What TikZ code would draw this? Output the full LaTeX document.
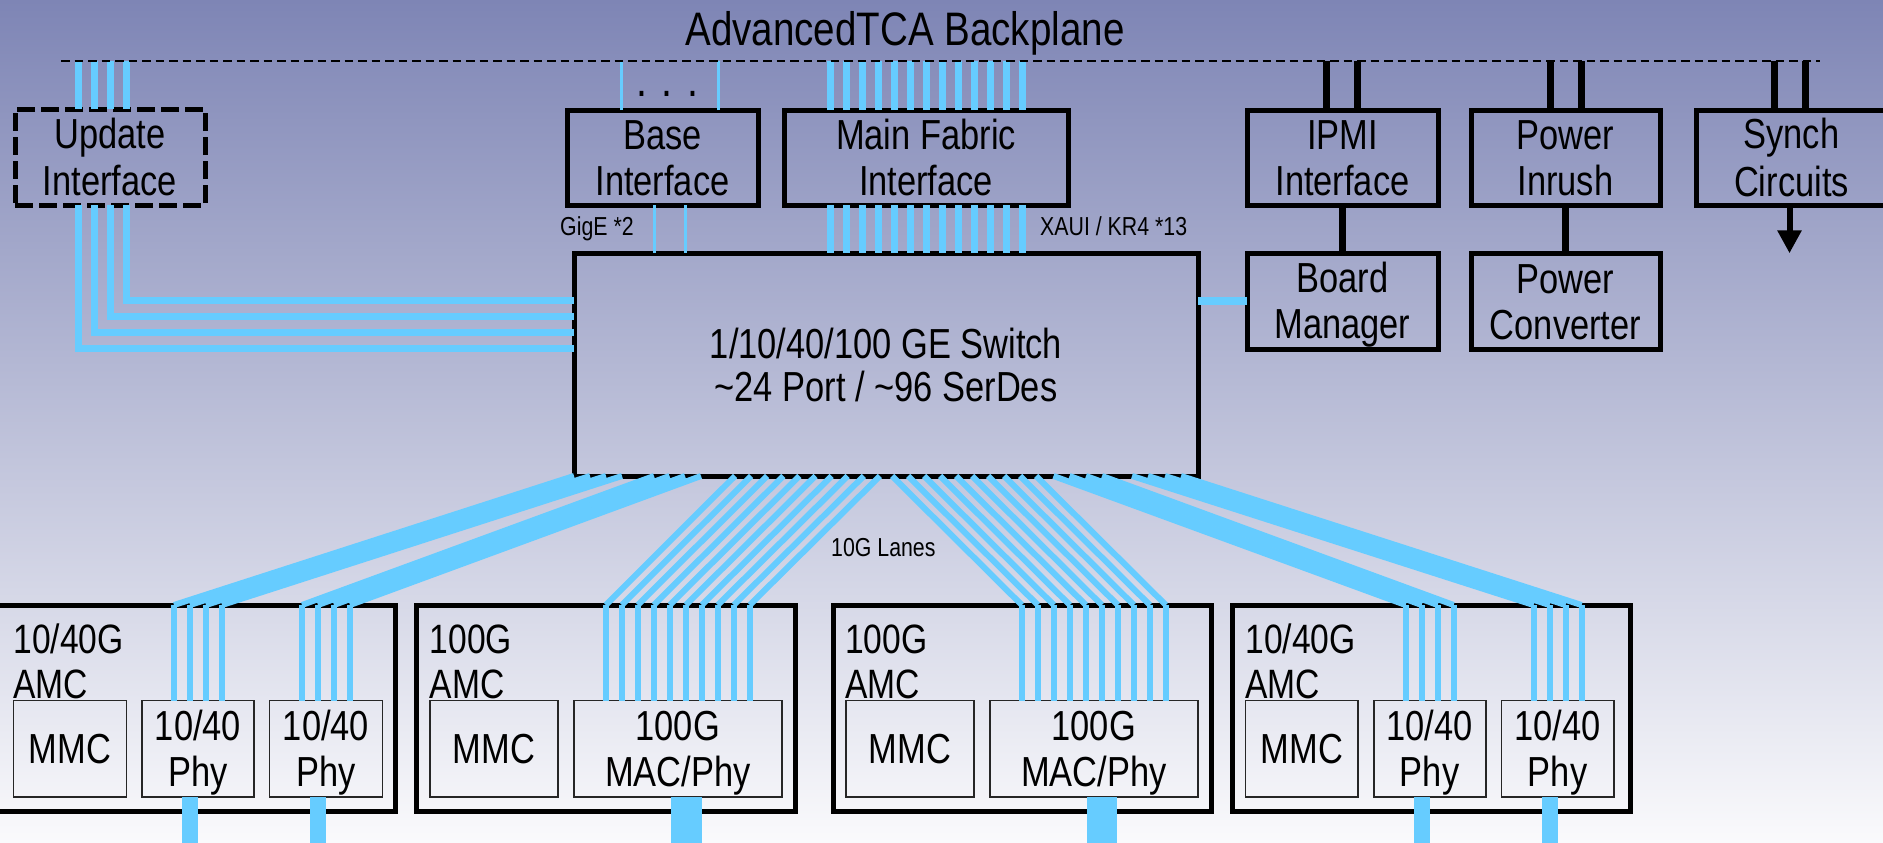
\documentclass[tikz,border=0pt]{standalone}
\usepackage{fontspec}
\setmainfont{Liberation Sans}[FakeStretch=0.82]
\usetikzlibrary{arrows.meta,calc}
\definecolor{lanec}{RGB}{102,204,255}
\definecolor{bgtop}{RGB}{126,133,181}
\definecolor{bgmid}{RGB}{196,198,221}
\definecolor{bgbot}{RGB}{250,250,252}
% line strut that centres the capitals of each line on the node centre
\makeatletter
\newcommand\cstrut{\rule[\dimexpr0.358\dimexpr\f@size pt\relax-0.5\baselineskip\relax]{0pt}{\baselineskip}}
\makeatother
\begin{document}
\begin{tikzpicture}[x=1pt,y=-1pt,
  box/.style 2 args={draw=black,line width=5pt,inner sep=0pt,outer sep=0pt,
    minimum width=#1pt,minimum height=#2pt,align=center,font=\fontsize{42}{46}\selectfont},
  inbox/.style 2 args={draw=black!85,line width=1.8pt,inner sep=0pt,outer sep=0pt,
    minimum width=#1pt,minimum height=#2pt,align=center,font=\fontsize{42}{46}\selectfont},
  amclbl/.style={anchor=west,inner sep=0pt,outer sep=0pt,align=left,font=\fontsize{41}{45}\selectfont},
  small/.style={anchor=base west,inner sep=0pt,font=\fontsize{26}{28}\selectfont},
  lane/.style={draw=lanec,line width=6pt},
  widelane/.style={draw=lanec,line width=7pt},
  thinlane/.style={draw=lanec,line width=3pt},
  stub/.style={draw=lanec,line width=#1pt},
  blk/.style={draw=black,line width=7pt}]

\useasboundingbox (0,0) rectangle (1883,843);
\clip (0,0) rectangle (1883,843);
\shade[top color=bgtop,middle color=bgmid,bottom color=bgbot] (0,0) rectangle (1883,843);

% title and backplane
\node[font=\fontsize{47}{50}\selectfont,anchor=base,inner sep=0pt] (title) at (905,46) {AdvancedTCA Backplane};
\coordinate (bpL) at (61,61);
\coordinate (bpR) at (1820,61);
\coordinate (bot) at (0,846);

% upper row
\node[box={190}{96},dash pattern=on 18pt off 6pt] (upd) at (110,157) {\cstrut Update\\\cstrut Interface};
\node[box={191}{95}] (base) at (662.5,157.5) {\cstrut Base\\\cstrut Interface};
\node[box={284}{95}] (fab) at (926,157.5) {\cstrut Main Fabric\\\cstrut Interface};
\node[box={191}{95}] (ipmi) at (1342.5,157.5) {\cstrut IPMI\\\cstrut Interface};
\node[box={189}{95}] (inr) at (1565.5,157.5) {\cstrut Power\\\cstrut Inrush};
\node[box={191}{95}] (syn) at (1791.5,157.5) {\cstrut Synch\\\cstrut Circuits};
\node[box={191}{95.5}] (bm) at (1342.5,301.25) {\cstrut Board\\\cstrut Manager};
\node[box={189}{95.5}] (pc) at (1565.5,301.25) {\cstrut Power\\\cstrut Converter};

% switch
\node[box={624}{223},font=\fontsize{42}{43}\selectfont] (sw) at (886,364.5)
  {\cstrut 1/10/40/100 GE Switch\\\cstrut \textasciitilde24 Port / \textasciitilde96 SerDes};

% AMC cards
\node[box={398}{206.5}] (a1) at (196,708.25) {};
\node[box={379}{206.5}] (a2) at (606,708.25) {};
\node[box={378}{206.5}] (a3) at (1022,708.25) {};
\node[box={397.5}{206.5}] (a4) at (1431.25,708.25) {};
\node[amclbl] (l1) at (13.5,661.2) {\cstrut 10/40G\\\cstrut AMC};
\node[amclbl] (l2) at (429.7,661.2) {\cstrut 100G\\\cstrut AMC};
\node[amclbl] (l3) at (845,661.2) {\cstrut 100G\\\cstrut AMC};
\node[amclbl] (l4) at (1245.5,661.2) {\cstrut 10/40G\\\cstrut AMC};

\node[inbox={113}{96.5}] (mmc1) at (70,748.75) {\cstrut MMC};
\node[inbox={112}{96.5}] (p11) at (198,748.75) {\cstrut 10/40\\\cstrut Phy};
\node[inbox={113}{96.5}] (p12) at (326,748.75) {\cstrut 10/40\\\cstrut Phy};
\node[inbox={128}{96.5}] (mmc2) at (494,748.75) {\cstrut MMC};
\node[inbox={207.6}{96.5}] (mac2) at (677.8,748.75) {\cstrut 100G\\\cstrut MAC/Phy};
\node[inbox={128}{96.5}] (mmc3) at (910,748.75) {\cstrut MMC};
\node[inbox={208.4}{96.5}] (mac3) at (1093.8,748.75) {\cstrut 100G\\\cstrut MAC/Phy};
\node[inbox={112.5}{96.5}] (mmc4) at (1301.75,748.75) {\cstrut MMC};
\node[inbox={112}{96.5}] (p41) at (1429.65,748.75) {\cstrut 10/40\\\cstrut Phy};
\node[inbox={112.4}{96.5}] (p42) at (1557.6,748.75) {\cstrut 10/40\\\cstrut Phy};

% small labels
\node[small] (gige) at (560,235) {GigE *2};
\node[small] (xaui) at (1040,235) {XAUI / KR4 *13};
\node[small] (tenG) at (831,556.7) {10G Lanes};
\node[font=\fontsize{48}{50}\selectfont,anchor=base,inner sep=0pt] (dots) at (667,96.5) {. . .};

% update interface lanes
\foreach \o in {-32,-16,0,16}
  \draw[widelane] ([xshift=\o pt]upd.north) -- ([xshift=\o pt]upd.north |- bpL);
\foreach \o/\h in {-32/16,-16/32,0/48,16/64}
  \draw[widelane,line join=miter] ([xshift=\o pt]upd.south) |- ([yshift=\h pt]sw.west);

% base interface lanes
\foreach \o in {-41.5,55.5}
  \draw[thinlane] ([xshift=\o pt]base.north) -- ([xshift=\o pt]base.north |- bpL);
\foreach \o in {-8.5,22.5}
  \draw[thinlane] ([xshift=\o pt]base.south) -- ([xshift=\o pt]base.south |- sw.north);

% main fabric lanes
\foreach \k [evaluate=\k as \o using \k*16-96] in {0,...,12} {
  \draw[widelane] ([xshift=\o pt]fab.north) -- ([xshift=\o pt]fab.north |- bpL);
  \draw[widelane] ([xshift=\o pt]fab.south) -- ([xshift=\o pt]fab.south |- sw.north);
}

% management and power links
\foreach \o in {-16,15}
  \draw[blk] ([xshift=\o pt]ipmi.north) -- ([xshift=\o pt]ipmi.north |- bpL);
\draw[blk] (ipmi.south) -- (bm.north);
\foreach \o in {-15.5,15.5}
  \draw[blk] ([xshift=\o pt]inr.north) -- ([xshift=\o pt]inr.north |- bpL);
\draw[blk] (inr.south) -- (pc.north);
\foreach \o in {-17,14}
  \draw[blk] ([xshift=\o pt]syn.north) -- ([xshift=\o pt]syn.north |- bpL);
\coordinate (synout) at (1789.5,253.3);
\draw[draw=black,line width=6pt,-{Triangle[width=23pt,length=23pt]}] (syn.south -| synout) -- (synout);
\draw[lane,line width=8pt] (bm.west -| sw.east) -- (bm.west);

% switch to AMC lanes
\foreach \s/\a in {0/-24,16/-8,32/8,48/24} {
  \draw[lane] ([xshift=\s pt]sw.south west) -- ([xshift=\a pt]p11.north |- a1.north);
  \draw[lane] ([xshift=\a pt]p11.north |- a1.north) -- ([xshift=\a pt]p11.north);
}
\foreach \s/\a in {80/-24,95.5/-8,111/8,127/24} {
  \draw[lane] ([xshift=\s pt]sw.south west) -- ([xshift=\a pt]p12.north |- a1.north);
  \draw[lane] ([xshift=\a pt]p12.north |- a1.north) -- ([xshift=\a pt]p12.north);
}
\foreach \k [evaluate=\k as \s using 161+\k*16.1, evaluate=\k as \a using \k*16-72] in {0,...,9} {
  \draw[lane] ([xshift=\s pt]sw.south west) -- ([xshift=\a pt]mac2.north |- a2.north);
  \draw[lane] ([xshift=\a pt]mac2.north |- a2.north) -- ([xshift=\a pt]mac2.north);
}
\foreach \k [evaluate=\k as \s using 318+\k*16, evaluate=\k as \a using \k*16-72] in {0,...,9} {
  \draw[lane] ([xshift=\s pt]sw.south west) -- ([xshift=\a pt]mac3.north |- a3.north);
  \draw[lane] ([xshift=\a pt]mac3.north |- a3.north) -- ([xshift=\a pt]mac3.north);
}
\foreach \s/\a in {479.5/-24,495.5/-8,512/8,528/24} {
  \draw[lane] ([xshift=\s pt]sw.south west) -- ([xshift=\a pt]p41.north |- a4.north);
  \draw[lane] ([xshift=\a pt]p41.north |- a4.north) -- ([xshift=\a pt]p41.north);
}
\foreach \s/\a in {558/-24,574/-8,591/8,607/24} {
  \draw[lane] ([xshift=\s pt]sw.south west) -- ([xshift=\a pt]p42.north |- a4.north);
  \draw[lane] ([xshift=\a pt]p42.north |- a4.north) -- ([xshift=\a pt]p42.north);
}

% outgoing front-panel links
\foreach \n/\o/\w in {p11/-8/16,p12/-8/16,mac2/8.4/31,mac3/8.2/30,p41/-8/16,p42/-8/16}
  \draw[stub=\w] ([xshift=\o pt]\n.south) -- ([xshift=\o pt]\n.south |- bot);

% backplane line
\draw[black,line width=2pt,dash pattern=on 8.5pt off 5pt] (bpL) -- (bpR);
\end{tikzpicture}
\end{document}
